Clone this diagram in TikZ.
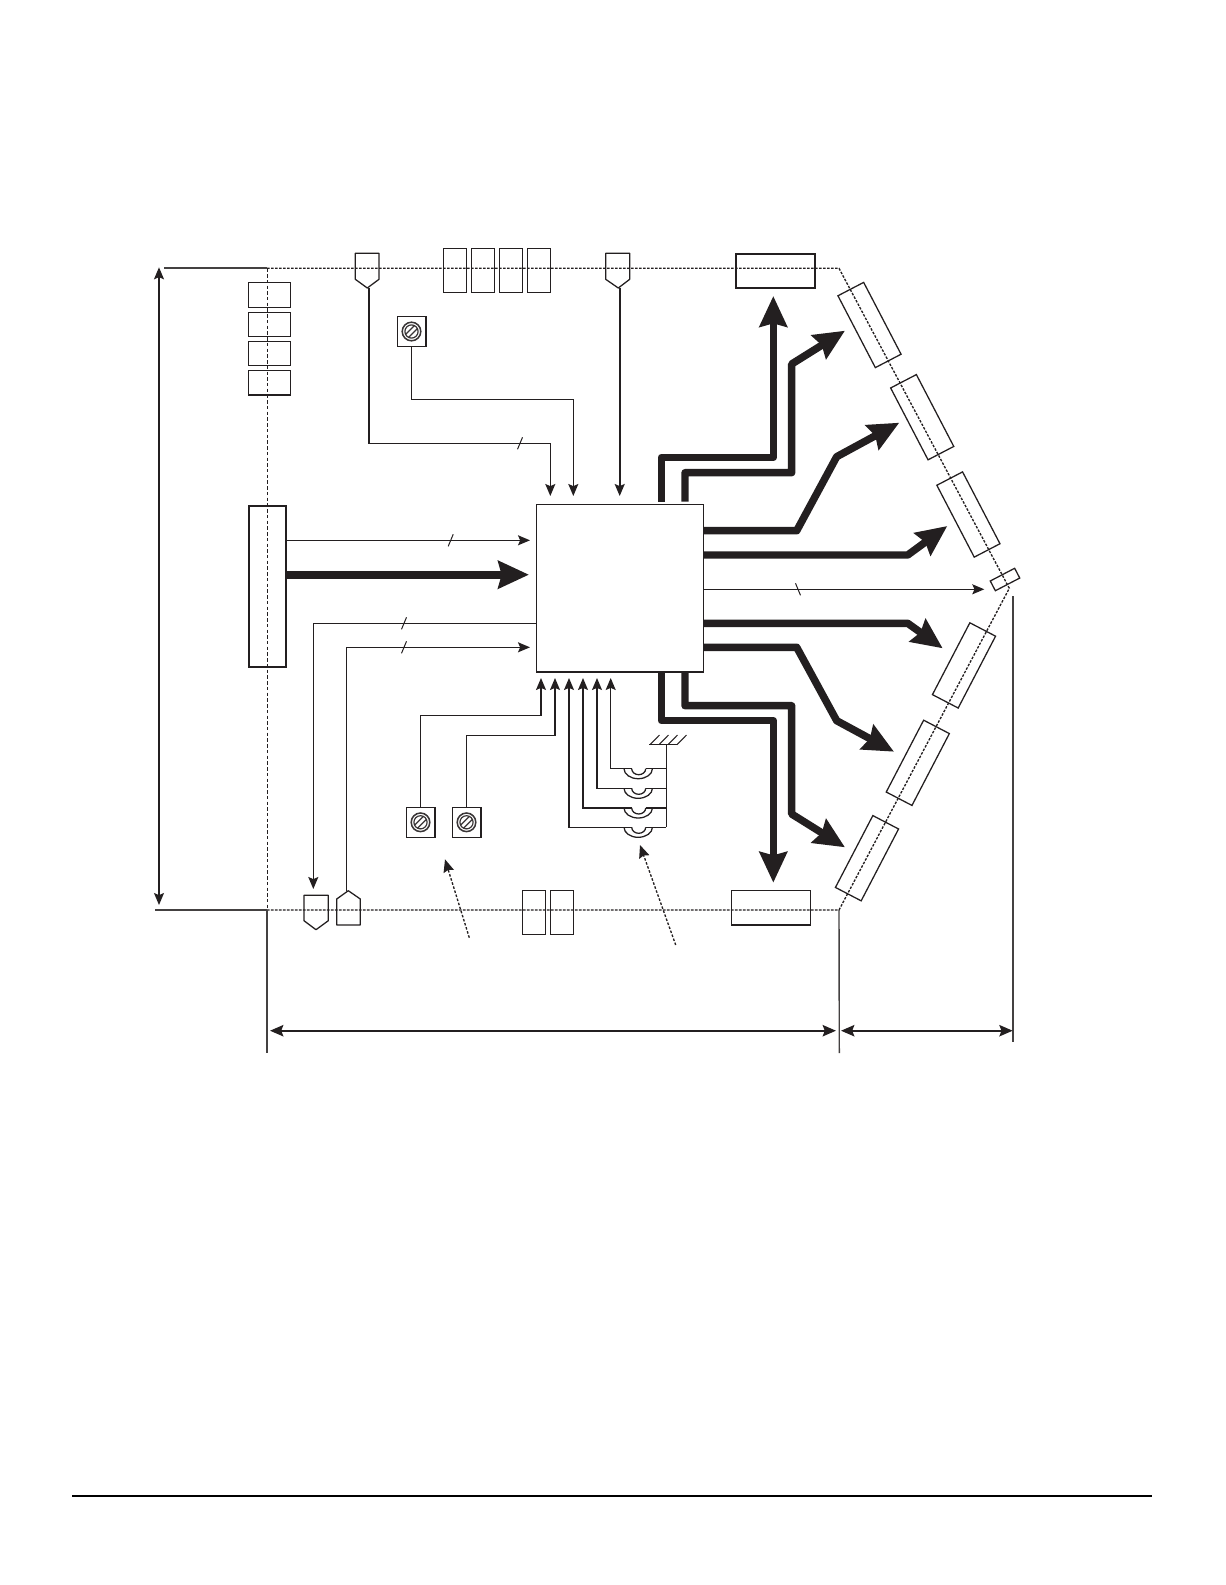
\documentclass[tikz,border=0pt]{standalone}
\usetikzlibrary{arrows.meta}
\definecolor{ink}{HTML}{231F20}
% rectangle node given by corners, in reference pixels
\newcommand{\cornerbox}[6][]{%
  \node[plainbox,#1,minimum width={(#5-#3)*0.75pt},minimum height={(#6-#4)*0.75pt}]
    (#2) at ({(#3+#5)/2},{(#4+#6)/2}) {};}
% rotated module: name, centre x, centre y, rotation, long side, short side
\newcommand{\modbox}[6]{%
  \node[plainbox,rotate=#4,minimum width={#5*0.75pt},minimum height={#6*0.75pt}]
    (#1) at (#2,#3) {};}
% adjustment screw in a square
\newcommand{\screwbox}[3]{%
  \node[plainbox,line width=1.2pt,minimum width=21.3pt,minimum height=22.5pt] (#1) at (#2,#3) {};
  \draw[line width=1.15pt,ink!90] (#1.center) circle (9.3);
  \draw[line width=.9pt,ink!90] (#1.center) circle (6.6);
  \draw[line width=.9pt,ink!90] ([shift={(-5.9,2.9)}]#1.center) -- ([shift={(2.9,-5.9)}]#1.center);
  \draw[line width=.9pt,ink!90] ([shift={(-2.9,5.9)}]#1.center) -- ([shift={(5.9,-2.9)}]#1.center);}
\tikzset{
  plainbox/.style={draw=ink,line width=.95pt,inner sep=0pt,outer sep=0pt,rectangle},
  heavybox/.style={line width=1.7pt},
  sig/.style={draw=ink,line width=.95pt,-{Stealth[length=9pt,width=7.5pt,inset=1.6pt]}},
  plainsig/.style={draw=ink,line width=.95pt},
  bus/.style={draw=ink,line width=5.6pt,line join=round,-{Stealth[length=23pt,width=20.5pt,inset=2.5pt]}},
  board/.style={draw=ink,line width=1pt,dash pattern=on 1.9pt off 1.1pt},
  boardv/.style={draw=ink,line width=.7pt,dash pattern=on 2.6pt off 1.7pt},
  pointer/.style={draw=ink,line width=1pt,dash pattern=on 1.9pt off 1.3pt,
    -{Stealth[length=9.5pt,width=8pt,inset=1.2pt]}},
  dim/.style={draw=ink,line width=1.4pt,{Stealth[length=10pt,width=8.5pt,inset=1.6pt]}-{Stealth[length=10pt,width=8.5pt,inset=1.6pt]}},
  dimv/.style={draw=ink,line width=.95pt,{Stealth[length=9pt,width=7.5pt,inset=1.6pt]}-{Stealth[length=9pt,width=7.5pt,inset=1.6pt]}},
  extension/.style={draw=ink!85,line width=1.05pt},
  tick/.style={draw=ink,line width=.75pt},
  shell/.style={draw=ink,line width=.95pt,line join=round},
}
\begin{document}
\begin{tikzpicture}[x=0.75pt,y=-0.75pt]
\useasboundingbox (0,0) rectangle (1225,1585);

% board outline
\coordinate (bTL) at (267,268.3);
\coordinate (bTR) at (839,268.3);
\coordinate (bV)  at (1009.3,588.3);
\coordinate (bBR) at (839,910);
\coordinate (bBL) at (267,910);
\draw[board] (bTL) -- (bTR) -- (bV) -- (bBR) -- (bBL);
\draw[boardv] (bTL) -- (bBL);

% left stacked boxes
\cornerbox[line width=1.1pt]{L1}{248.3}{282.3}{290.7}{307.3}
\cornerbox{L2}{248.3}{312.3}{290.7}{336.7}
\cornerbox{L3}{248.3}{341.3}{290.7}{365.7}
\cornerbox[line width=1.1pt]{L4}{248.3}{370.3}{290.7}{395}
% top row boxes
\cornerbox{T1}{443.3}{248.3}{466.7}{292.3}
\cornerbox{T2}{471.3}{248.3}{494.7}{292.3}
\cornerbox{T3}{499.3}{248.3}{522.7}{292.3}
\cornerbox{T4}{527.3}{248.3}{550.7}{292.3}
% bottom pair
\cornerbox{B1}{522.3}{890.3}{545.3}{934.3}
\cornerbox{B2}{550.3}{890.3}{573.3}{934.3}
% top and bottom modules
\cornerbox[heavybox]{topmod}{735.7}{253.7}{815.3}{288.3}
\cornerbox[line width=1.1pt]{botmod}{731.3}{890.7}{810.3}{925}
% header at left
\cornerbox[heavybox]{header}{248.7}{506.3}{286.3}{667}
% central chip
\cornerbox[line width=1.1pt]{chip}{536.7}{504.3}{703.3}{672}

% rotated modules
\modbox{M1}{869.5}{325}{-62.5}{81}{29}
\modbox{M2}{922.2}{417.2}{-62.5}{81}{29}
\modbox{M3}{968.4}{514.5}{-62.5}{81}{29}
\modbox{M4}{964}{665.4}{62.5}{81}{29}
\modbox{M5}{917.8}{762.8}{62.5}{81}{29}
\modbox{M6}{867}{858.2}{62.5}{81}{29}
\modbox{M7}{1005}{579.5}{27.5}{27.5}{11}

% connector shells
\coordinate (conA) at (367.3,288);
\coordinate (conB) at (618.3,288);
\coordinate (conC) at (316,929.7);
\coordinate (conD) at (348.3,890.7);
\draw[shell] (355.3,253.3) -- (379,253.3) -- (379,279.3) -- (conA) -- (355.3,279.3) -- cycle;
\draw[shell] (605.7,253.3) -- (629.7,253.3) -- (629.7,279.3) -- (conB) -- (605.7,279.3) -- cycle;
\draw[shell] (304,895.3) -- (328.3,895.3) -- (328.3,920.7) -- (conC) -- (304,920.7) -- cycle;
\draw[shell] (336.7,925) -- (360.3,925) -- (360.3,899) -- (conD) -- (336.7,899) -- cycle;

% screws
\screwbox{S1}{411.5}{331.5}
\screwbox{S2}{420.5}{822.3}
\screwbox{S3}{466.5}{822.3}

% signal end points
\coordinate (tipA) at (550.3,496);
\coordinate (tipS1) at (573.3,496);
\coordinate (tipB) at (619.7,496);
\coordinate (tipH) at (530,540.3);
\coordinate (tipD) at (530,647.3);
\coordinate (tipC) at (313.3,889);
\coordinate (tipR) at (984.3,589.3);
\coordinate (tipS2) at (541,678);
\coordinate (tipS3) at (555,678);

% thin signals
\draw[sig] (369,288) |- (520,443.3) -| (tipA);
\draw[tick] (517.5,449.3) -- (522.5,437.3);
\draw[sig] (S1.south) |- (573.3,399.3) -- (tipS1);
\draw[sig,line width=1.3pt] (619.7,288) -- (tipB);
\draw[sig] (header.east |- tipH) -- (tipH);
\draw[tick] (448.2,546.3) -- (453.2,534.3);
\draw[sig] (chip.west |- 0,623.3) -| (tipC);
\draw[tick] (401.5,629.3) -- (406.5,617.3);
\draw[sig] (346.3,891) |- (tipD);
\draw[tick] (401.5,653.3) -- (406.5,641.3);
\draw[sig] (chip.east |- tipR) -- (tipR);
\draw[tick] (795.5,583.3) -- (800.5,595.3);
\draw[sig] (S2.north) |- (541,715.3) -- (tipS2);
\draw[sig] (S3.north) |- (555,735.3) -- (tipS3);

% wide buses
\coordinate (bu1) at (773.3,296);
\coordinate (bu2) at (845,330.7);
\coordinate (bu3) at (899.3,422.7);
\coordinate (bu4) at (947.3,526);
\coordinate (bd1) at (942.7,648.3);
\coordinate (bd2) at (894,751.7);
\coordinate (bd3) at (845,847.3);
\coordinate (bd4) at (773.3,882.7);
\draw[bus] (661.3,501.7) -- (661.3,457.3) -- (773.3,457.3) -- (bu1);
\draw[bus] (685,501.7) -- (685,472.7) -- (791.7,472.7) -- (791.7,364) -- (bu2);
\draw[bus] (chip.east |- 0,530.7) -- (796.7,530.7) -- (836.7,456.7) -- (bu3);
\draw[bus] (chip.east |- 0,555) -- (907.7,555) -- (bu4);
\draw[bus] (chip.east |- 0,623.3) -- (907.7,623.3) -- (bd1);
\draw[bus] (chip.east |- 0,647.3) -- (796.7,647.3) -- (836.7,720.7) -- (bd2);
\draw[bus] (chip.south -| 685,0) -- (685,705.7) -- (791.7,705.7) -- (791.7,814) -- (bd3);
\draw[bus] (chip.south -| 661.3,0) -- (661.3,720.7) -- (773.3,720.7) -- (bd4);
\draw[bus,line width=6pt] (header.east |- 0,574.7) -- (529,574.7);

% contacts and ground
\coordinate (gnd) at (666.3,744.7);
\draw[draw=ink,line width=.95pt] (649.3,744.7) -- (676.7,744.7);
\foreach \hx in {0,9,18,27}
  \draw[draw=ink,line width=.75pt] (650+\hx,744.7) -- (659.5+\hx,735);
\draw[plainsig] (gnd) -- (666.3,827.3);
\foreach \ry/\tx [count=\ri] in {768.7/610.7,788.3/597,808/583,827.3/569}{
  \coordinate (tipK\ri) at (\tx,678);
  \draw[sig] (631.7,\ry) -| (tipK\ri);
  \draw[plainsig] (645.7,\ry) -- (666.3,\ry);
  \draw[plainsig] (624,\ry) arc[start angle=180,end angle=0,x radius=14.2,y radius=10];
  \draw[plainsig] (631.7,\ry) arc[start angle=180,end angle=0,x radius=7,y radius=6];
}

% pointers
\coordinate (p1s) at (469.3,937.7);
\coordinate (p1t) at (445,859.3);
\coordinate (p2s) at (675.7,945);
\coordinate (p2t) at (640,845);
\draw[pointer] (p1s) -- (p1t);
\draw[pointer] (p2s) -- (p2t);

% dimension lines
\coordinate (dl1) at (164.3,268.3);
\coordinate (dl2) at (155,910);
\draw[extension,line width=1.3pt] (dl1) -- (bTL);
\draw[extension,line width=1.3pt] (dl2) -- (bBL);
\draw[dimv] (159,267.3) -- (159,905);
\coordinate (ex1) at (267,1053);
\coordinate (ex2) at (839.3,1053);
\coordinate (ex3) at (1013,596);
\coordinate (ex4) at (1013,1041.7);
\draw[extension] (bBL) -- (ex1);
\draw[extension] (bBR) -- (ex2);
\draw[extension] (ex3) -- (ex4);
\draw[dim] (270,1030.7) -- (836,1030.7);
\draw[dim] (841,1030.7) -- (1012.7,1030.7);

% footer rule
\coordinate (r1) at (72,1495.7);
\coordinate (r2) at (1152,1495.7);
\draw[black,line width=1.5pt] (r1) -- (r2);
\end{tikzpicture}
\end{document}
